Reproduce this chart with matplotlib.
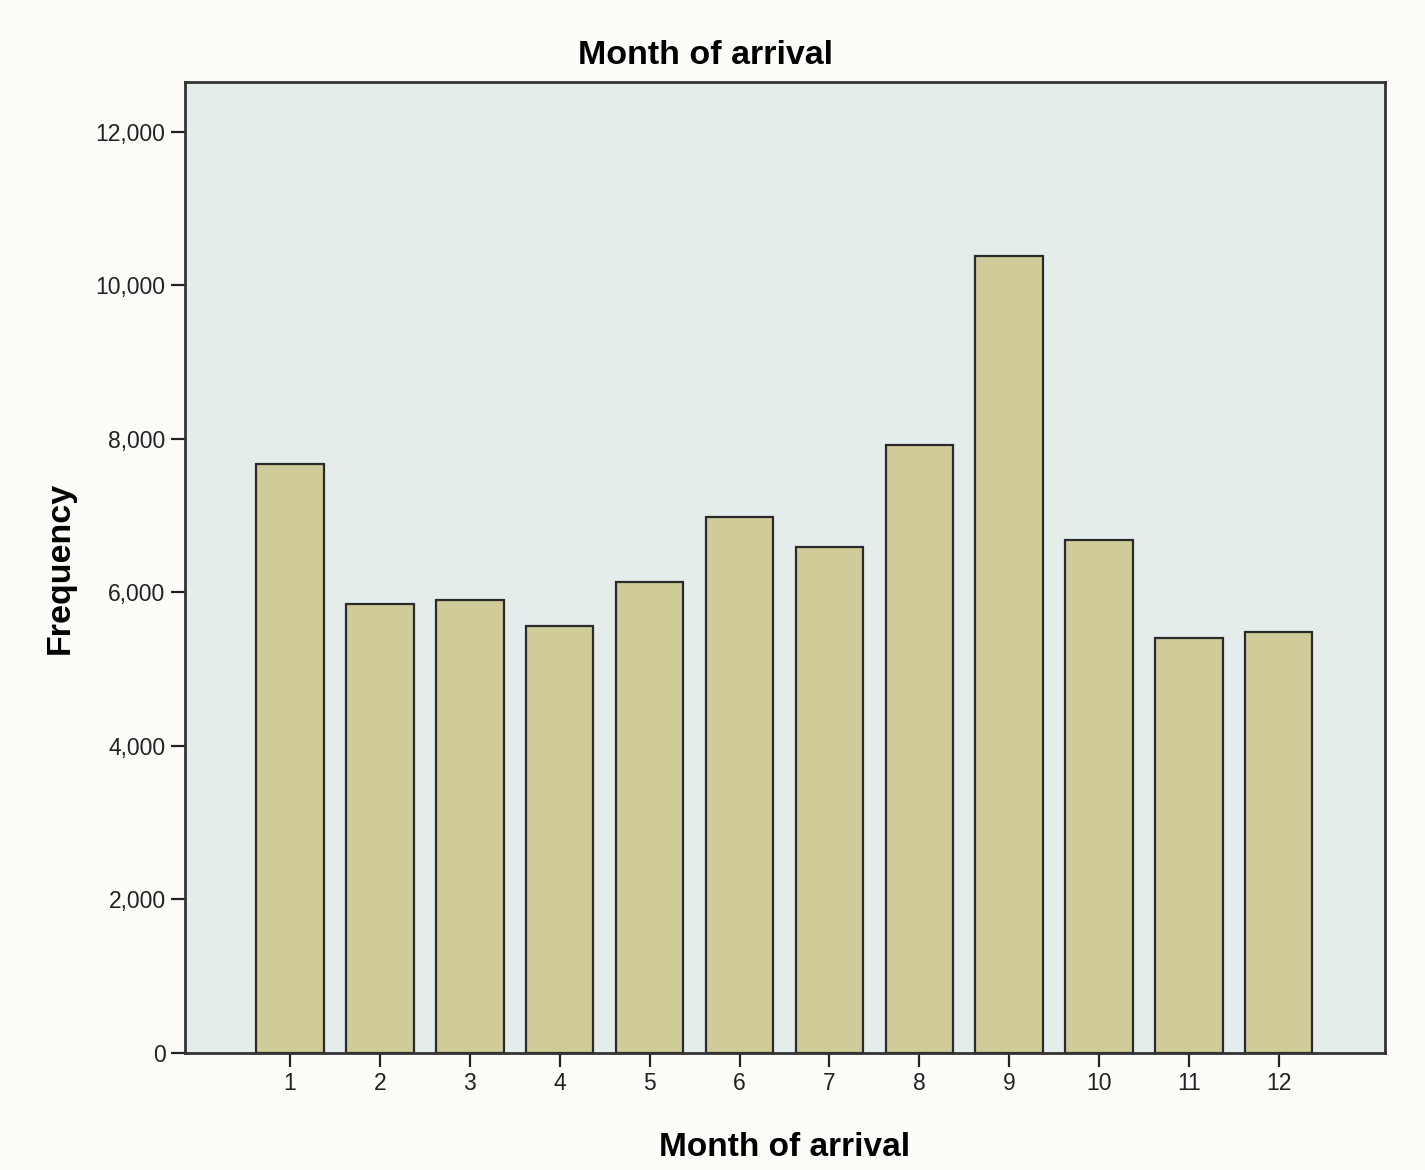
import numpy as np
import matplotlib.pyplot as plt

plt.rcParams['font.family'] = ['Liberation Sans', 'DejaVu Sans']

# months and counts
months = [1, 2, 3, 4, 5, 6, 7, 8, 9, 10, 11, 12]
freq = [7670, 5850, 5900, 5560, 6130, 6980, 6590, 7920, 10380, 6680, 5410, 5480]
yticks = [0, 2000, 4000, 6000, 8000, 10000, 12000]

fig = plt.figure(figsize=(14.25, 11.7), dpi=100, facecolor='#fdfcf8')
ax = fig.add_axes([0.1298, 0.1, 0.842, 0.83])
ax.set_facecolor('#e4ecec')

ax.bar(months, freq, width=0.75, color='#cfcc9a', edgecolor='#2a2a2a', linewidth=1.6, zorder=2)

ax.set_xlim(-0.17, 13.18)
ax.set_ylim(0, 12650)
ax.set_xticks(months)
ax.set_xticklabels([str(m) for m in months])
ax.set_yticks(yticks)
ax.set_yticklabels(['{:,}'.format(v) for v in yticks])
ax.tick_params(axis='both', direction='out', length=10, width=1.6, colors='#222222', labelsize=16.5, pad=4)

for s in ax.spines.values():
    s.set_linewidth(2)
    s.set_color('#333333')

ax.set_xlabel('Month of arrival', fontsize=24, fontweight='bold', labelpad=26)
ax.set_ylabel('Frequency', fontsize=24.5, fontweight='bold', labelpad=14)
fig.suptitle('Month of arrival', fontsize=24.5, fontweight='bold', x=0.495, y=0.966)

plt.savefig('out.png', dpi=100, facecolor=fig.get_facecolor())
